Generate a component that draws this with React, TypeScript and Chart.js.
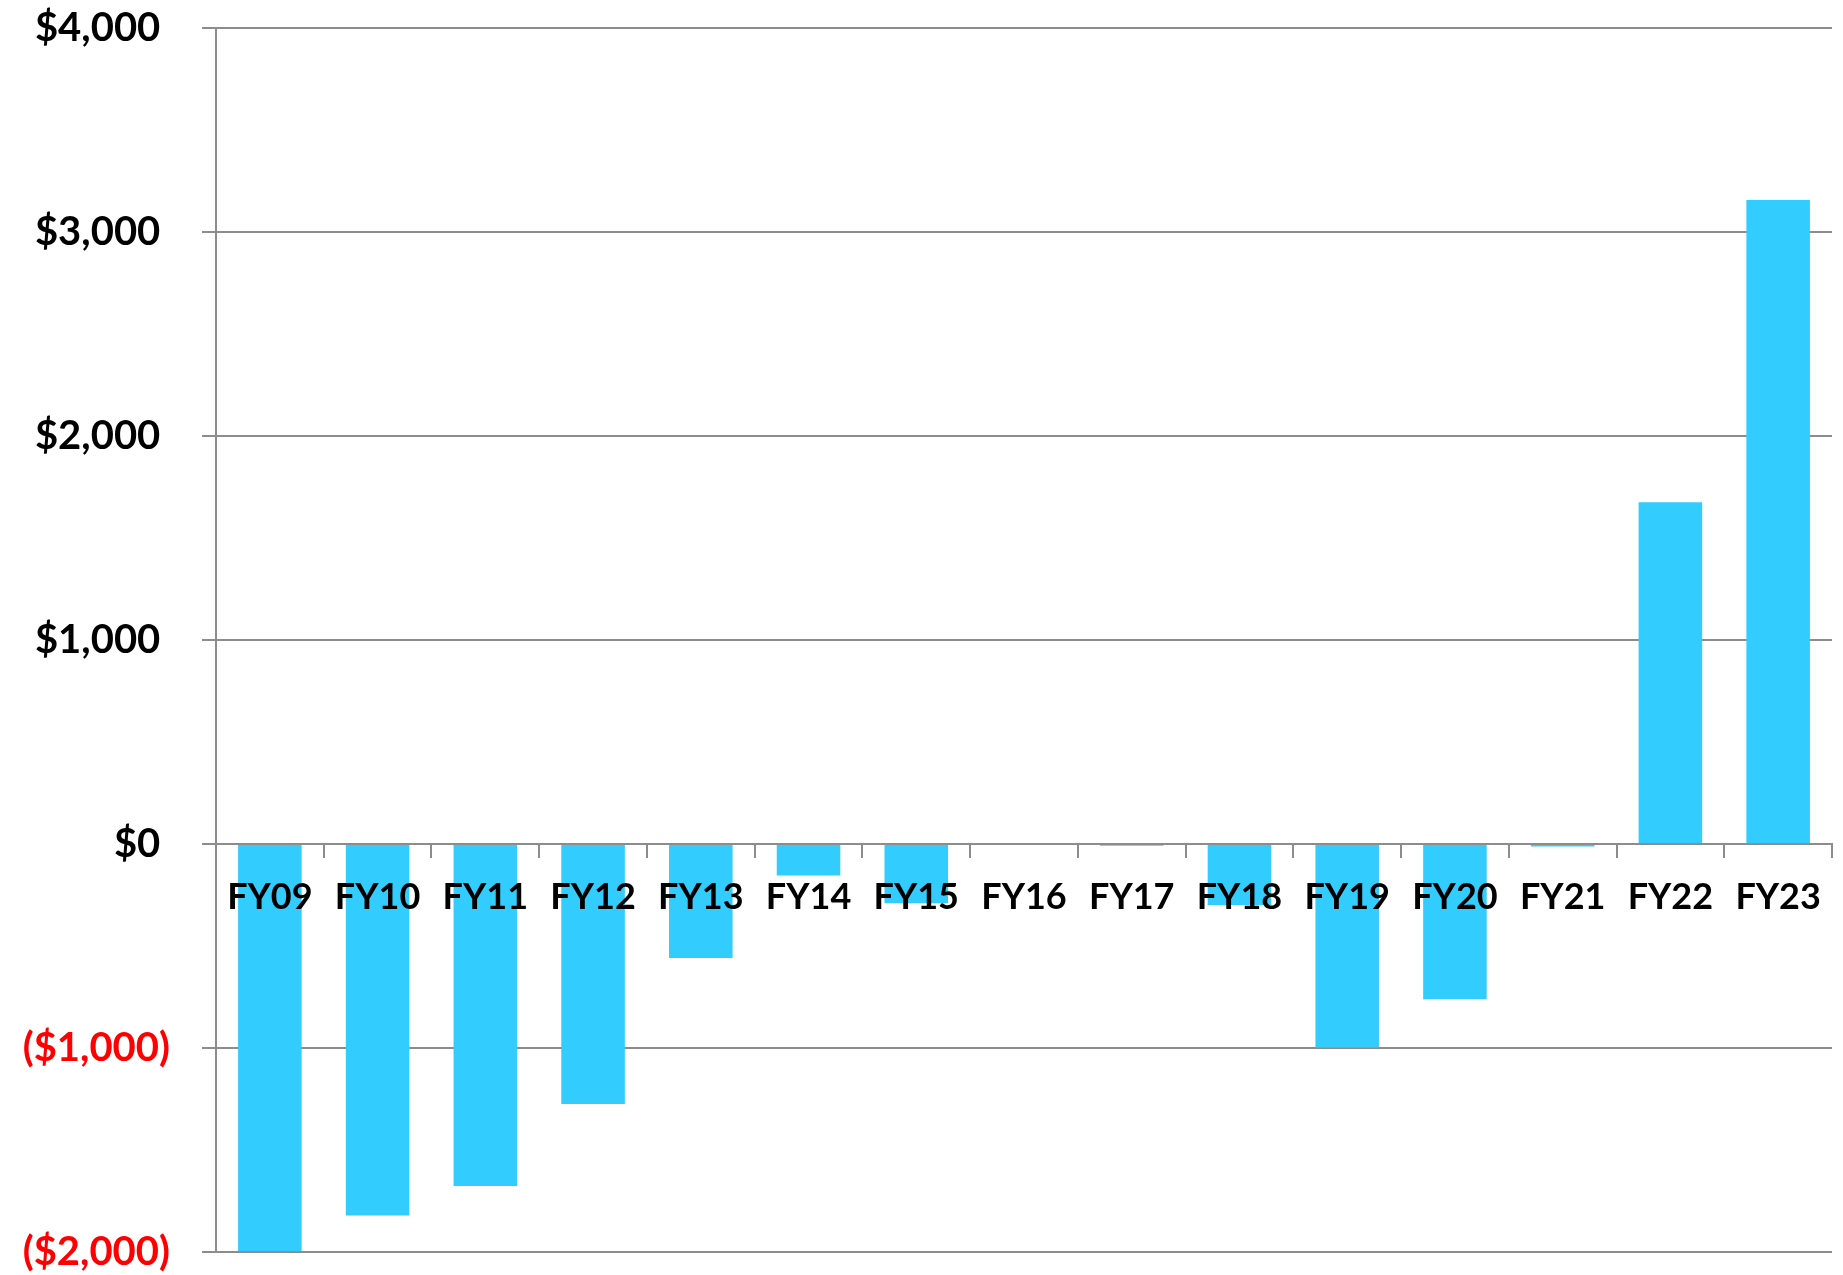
import React, { useEffect, useRef } from "react";
import { Chart, registerables } from "chart.js";

Chart.register(...registerables);

const categories = ["FY09", "FY10", "FY11", "FY12", "FY13", "FY14", "FY15", "FY16", "FY17", "FY18", "FY19", "FY20", "FY21", "FY22", "FY23"];
const netValues = [-1995, -1821, -1677, -1274, -559, -154, -291, 0, -9, -299, -997, -761, -12, 1675, 3157];
const yTickValues = [-2000, -1000, 0, 1000, 2000, 3000, 4000];
const yTickLabels = ["($2,000)", "($1,000)", "$0 ", "$1,000 ", "$2,000 ", "$3,000 ", "$4,000 "];

const GRID = "#8c8c8c";
const FONT = "Lato, 'Open Sans', sans-serif";

export default function App() {
  const ref = useRef<HTMLCanvasElement | null>(null);

  useEffect(() => {
    if (!ref.current) return;
    const chart = new Chart(ref.current, {
      type: "bar",
      data: {
        labels: categories,
        datasets: [
          {
            data: netValues,
            backgroundColor: "#33CCFF",
            borderWidth: 0,
            barPercentage: 0.59,
            categoryPercentage: 1.0,
          },
        ],
      },
      options: {
        animation: false,
        responsive: true,
        maintainAspectRatio: false,
        devicePixelRatio: 1,
        layout: { padding: { top: 28, bottom: 23, right: 11, left: 0 } },
        plugins: { legend: { display: false }, tooltip: { enabled: false } },
        scales: {
          x: {
            position: { y: 0 } as any,
            grid: {
              drawOnChartArea: false,
              drawTicks: true,
              tickLength: 13,
              color: GRID,
              lineWidth: 2,
              z: 1,
            },
            border: { display: true, color: GRID, width: 2, z: 1 },
            ticks: {
              z: 2,
              color: "#000000",
              padding: 19,
              maxRotation: 0,
              autoSkip: false,
              font: { family: FONT, size: 36, weight: "bold" },
            },
            afterFit: (s: any) => {
              s.height = 0;
              s.paddingLeft = 0;
              s.paddingRight = 0;
              s.paddingTop = 0;
              s.paddingBottom = 0;
            },
          },
          y: {
            min: yTickValues[0],
            max: yTickValues[yTickValues.length - 1],
            afterBuildTicks: (s: any) => {
              s.ticks = yTickValues.map((v) => ({ value: v }));
            },
            grid: {
              color: GRID,
              lineWidth: 2,
              drawTicks: true,
              tickLength: 14,
            },
            border: { display: true, color: GRID, width: 2 },
            ticks: {
              padding: 32,
              color: (ctx: any) => (ctx.tick && ctx.tick.value < 0 ? "#FF0000" : "#000000"),
              font: { family: FONT, size: 40, weight: "bold", lineHeight: 1.0 },
              callback: (_v: any, i: number) => yTickLabels[i],
            },
            afterFit: (s: any) => {
              s.width = 216;
              s.paddingTop = 0;
              s.paddingBottom = 0;
            },
          },
        },
      },
    });
    return () => chart.destroy();
  }, []);

  return (
    <div style={{ position: "fixed", left: 0, top: 0, width: "1843px", height: "1275px", background: "#ffffff" }}>
      <canvas ref={ref} />
    </div>
  );
}
